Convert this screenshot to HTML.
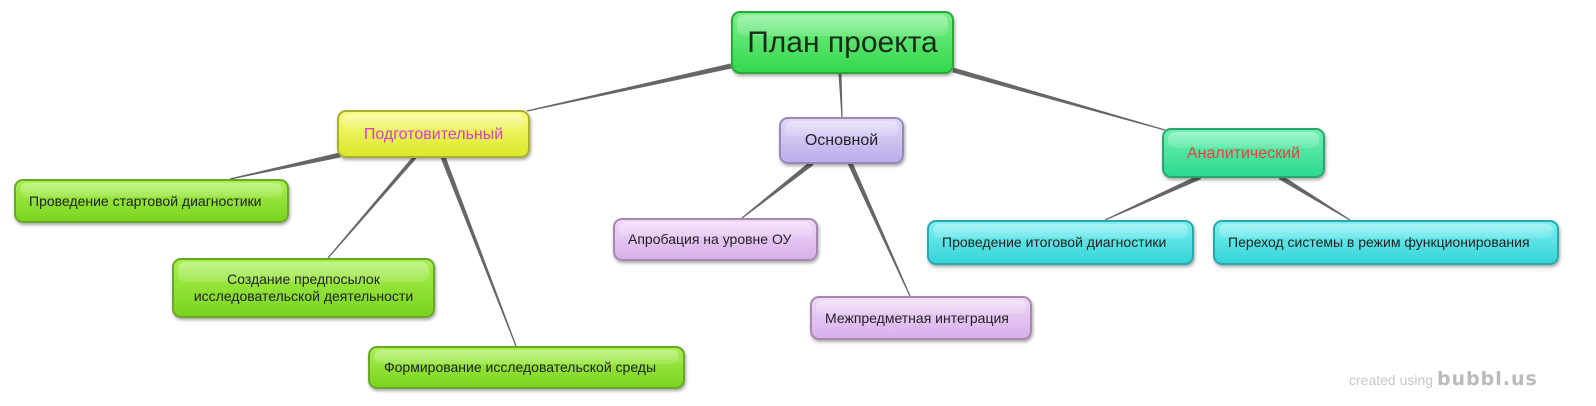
<!DOCTYPE html>
<html><head><meta charset="utf-8"><style>
body{margin:0;width:1596px;height:406px;background:#fff;position:relative;overflow:hidden;font-family:"Liberation Sans",sans-serif}
svg{position:absolute;left:0;top:0}
.n{position:absolute;box-sizing:border-box;border-radius:9px;display:flex;align-items:center;justify-content:center;text-align:center;font-size:14px;color:#222;box-shadow:1px 2px 3px rgba(0,0,0,.35);line-height:17px}
.n::before{content:"";position:absolute;left:4px;right:4px;top:2px;height:35%;border-radius:7px;background:linear-gradient(rgba(255,255,255,.35),rgba(255,255,255,.12))}
.n span{position:relative}
.g{background:linear-gradient(#a8f050,#7ad41e);border:2px solid #6aa82a}
.c{background:linear-gradient(#7ef0f0,#34d4d8);border:2px solid #2aa8ac}
.p{background:linear-gradient(#f0d8f8,#d8b0ec);border:2px solid #a888b0}
</style></head><body>
<svg width="1596" height="406" id="s"></svg>
<div class="n" style="left:731px;top:11px;width:223px;height:63px;background:linear-gradient(#7af08a,#34d84c);border:2px solid #2aa83a;font-size:30px;color:#1a2a1a"><span>План проекта</span></div>
<div class="n" style="left:337px;top:110px;width:193px;height:48px;background:linear-gradient(#f8fa80,#dce82a);border:2px solid #a8b030;font-size:16px;color:#d040c8"><span>Подготовительный</span></div>
<div class="n" style="left:779px;top:117px;width:125px;height:47px;background:linear-gradient(#e0d8f8,#bcaeea);border:2px solid #9888b8;font-size:16px;color:#222"><span>Основной</span></div>
<div class="n" style="left:1162px;top:128px;width:163px;height:50px;background:linear-gradient(#70f0b0,#2cd890);border:2px solid #28a870;font-size:16px;color:#e84040"><span>Аналитический</span></div>
<div class="n g" style="left:14px;top:179px;width:275px;height:44px;justify-content:flex-start;padding-left:13px"><span>Проведение стартовой диагностики</span></div>
<div class="n g" style="left:172px;top:258px;width:263px;height:60px"><span>Создание предпосылок<br>исследовательской деятельности</span></div>
<div class="n g" style="left:368px;top:346px;width:317px;height:43px;justify-content:flex-start;padding-left:14px"><span>Формирование исследовательской среды</span></div>
<div class="n p" style="left:613px;top:218px;width:205px;height:43px;justify-content:flex-start;padding-left:13px"><span>Апробация на уровне ОУ</span></div>
<div class="n p" style="left:810px;top:296px;width:222px;height:44px;justify-content:flex-start;padding-left:13px"><span>Межпредметная интеграция</span></div>
<div class="n c" style="left:927px;top:220px;width:267px;height:45px;justify-content:flex-start;padding-left:13px"><span>Проведение итоговой диагностики</span></div>
<div class="n c" style="left:1213px;top:220px;width:346px;height:45px;justify-content:flex-start;padding-left:13px"><span>Переход системы в режим функционирования</span></div>
<div style="position:absolute;left:1349px;top:368px;font-size:14px;color:#c8c8c8">created using <b style="font-size:19px;letter-spacing:1px;color:#bbb;font-family:'DejaVu Sans',sans-serif">bubbl.us</b></div>
<script>
var L=[[731,66,527,111,5],[840,74,842,117,3],[953,70,1165,130,5],[340,155,230,179,5],[415,157,328,258,4],[443,157,516,346,5],[812,163,742,218,5],[850,163,910,296,5],[1200,177,1105,220,5],[1280,177,1350,220,5]];
var s=document.getElementById('s'),h='';
L.forEach(function(a){var dx=a[2]-a[0],dy=a[3]-a[1],l=Math.hypot(dx,dy),nx=-dy/l,ny=dx/l,w=a[4]/2,t=0.6;
h+='<polygon fill="#666" points="'+(a[0]+nx*w)+','+(a[1]+ny*w)+' '+(a[2]+nx*t)+','+(a[3]+ny*t)+' '+(a[2]-nx*t)+','+(a[3]-ny*t)+' '+(a[0]-nx*w)+','+(a[1]-ny*w)+'"/>';});
s.innerHTML=h;
</script>
</body></html>
